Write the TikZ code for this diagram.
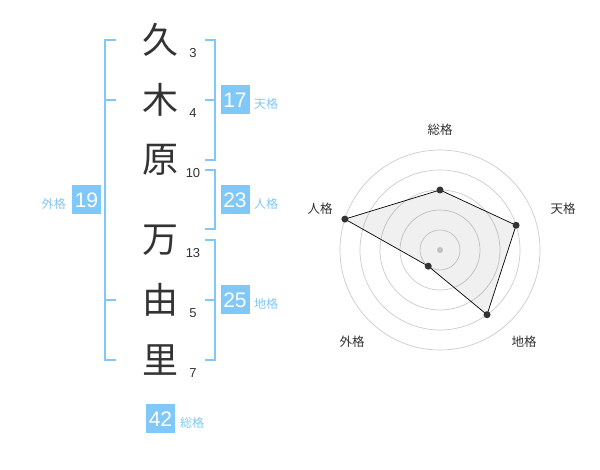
\documentclass[tikz,border=0pt]{standalone}
\usepackage{fontspec}
\setmainfont{Liberation Sans}
\newfontfamily\jp{Noto Sans CJK JP}
\definecolor{kblue}{RGB}{128,200,248}
\definecolor{ktext}{RGB}{51,51,51}
\definecolor{kgrid}{RGB}{204,204,204}
\begin{document}
\begin{tikzpicture}[x=1pt,y=1pt,
  kanji/.style={font=\jp\fontsize{36}{36}\selectfont, text=ktext, inner sep=0},
  strokes/.style={font=\fontsize{13}{13}\selectfont, text=ktext, inner sep=0},
  kbox/.style={fill=kblue, text=white, minimum size=29pt, inner sep=0, font=\fontsize{21}{21}\selectfont},
  klabel/.style={text=kblue, font=\jp\fontsize{12}{12}\selectfont, inner sep=0},
  brk/.style={draw=kblue, line width=2pt},
  rlabel/.style={text=ktext, font=\jp\fontsize{12.5}{12.5}\selectfont, inner sep=0},
  gridc/.style={draw=kgrid, line width=0.7pt},
  dotn/.style={circle, fill=ktext, inner sep=0, minimum size=7pt}]
\fill[white] (0,0) rectangle (600,470);
\useasboundingbox (0,0) rectangle (600,470);
% characters
\node[kanji] (c1) at (160,430) {久};
\node[kanji] (c2) at (160,370) {木};
\node[kanji] (c3) at (160,310) {原};
\node[kanji] (c4) at (160,230) {万};
\node[kanji] (c5) at (160,170) {由};
\node[kanji] (c6) at (160,110) {里};
% stroke counts
\node[strokes] (n1) at (193,417) {3};
\node[strokes] (n2) at (193,357) {4};
\node[strokes] (n3) at (193,297) {10};
\node[strokes] (n4) at (193,217) {13};
\node[strokes] (n5) at (193,157) {5};
\node[strokes] (n6) at (193,97) {7};
% left bracket
\draw[brk] (116,430) -- (105,430) -- (105,110) -- (116,110);
\draw[brk] (105,370) -- (116,370);
\draw[brk] (105,170) -- (116,170);
% right brackets
\draw[brk] (205,430) -- (215,430) -- (215,310) -- (205,310);
\draw[brk] (205,370) -- (215,370);
\draw[brk] (205,300) -- (215,300) -- (215,240.7) -- (205,240.7);
\draw[brk] (205,230) -- (215,230) -- (215,110) -- (205,110);
\draw[brk] (205,170) -- (215,170);
% boxes
\node[kbox] (ten) at (235,370) {17};
\node[klabel, anchor=west] (tenl) at (254,366) {天格};
\node[kbox] (jin) at (235,270) {23};
\node[klabel, anchor=west] (jinl) at (254,266) {人格};
\node[kbox] (chi) at (235,170) {25};
\node[klabel, anchor=west] (chil) at (254,166) {地格};
\node[kbox] (gai) at (86.5,270) {19};
\node[klabel, anchor=east] (gail) at (66,266) {外格};
\node[kbox] (sou) at (160.5,51) {42};
\node[klabel, anchor=west] (soul) at (180,47) {総格};
% radar
\begin{scope}[shift={(440,220)}]
  \foreach \r in {20,40,60,80,100} \draw[gridc] (0,0) circle (\r);
  \fill[kgrid] (0,0) circle (3);
  \coordinate (q1) at (90:60);
  \coordinate (q2) at (18:80);
  \coordinate (q3) at (-54:80);
  \coordinate (q4) at (-126:20);
  \coordinate (q5) at (162:100);
  \filldraw[fill=black, fill opacity=0.06, draw=black, line width=0.7pt] (q1) -- (q2) -- (q3) -- (q4) -- (q5) -- cycle;
  \foreach \i in {1,...,5} \node[dotn] (d\i) at (q\i) {};
\end{scope}
\node[rlabel] (r1) at (440,340) {総格};
\node[rlabel] (r2) at (563,261.3) {天格};
\node[rlabel] (r3) at (524,128.3) {地格};
\node[rlabel] (r4) at (352,128.3) {外格};
\node[rlabel] (r5) at (320,261.3) {人格};
\end{tikzpicture}
\end{document}
